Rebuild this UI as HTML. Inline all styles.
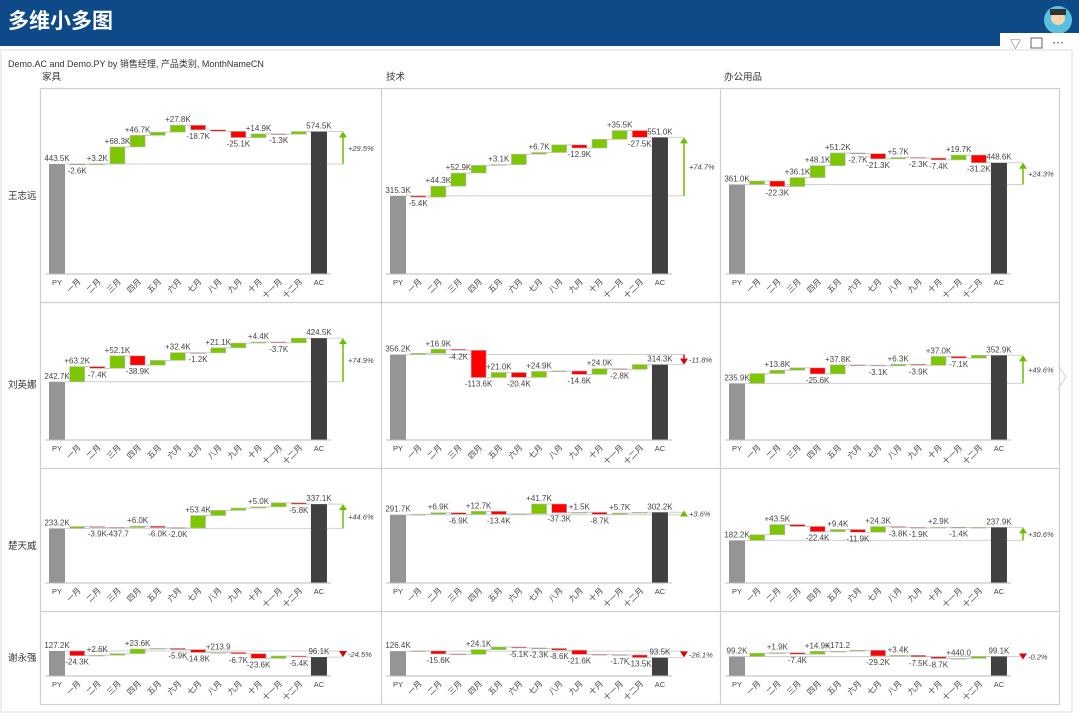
<!DOCTYPE html>
<html><head><meta charset="utf-8"><style>
body{margin:0;width:1079px;height:722px;overflow:hidden;background:#fff;font-family:"Liberation Sans","Noto Sans CJK SC",sans-serif;}
svg text{font-family:"Liberation Sans","Noto Sans CJK SC",sans-serif;}
</style></head><body>
<svg id="s" width="1079" height="722" xmlns="http://www.w3.org/2000/svg">
<rect x="0" y="0" width="1079" height="46" fill="#0e4a88"/>
<text x="8" y="28" font-size="21" fill="#fff" font-weight="bold">多维小多图</text>
<circle cx="1058" cy="20" r="14" fill="#5bc0de"/>
<circle cx="1058" cy="18" r="7" fill="#f4d3b0"/>
<rect x="1050" y="9" width="16" height="6" fill="#333"/>
<rect x="1000" y="33" width="79" height="20" fill="#fff"/>
<rect x="1" y="50" width="1071" height="662" fill="#fff" stroke="#ddd"/>
<text x="1010" y="48" font-size="11" fill="#555">▽</text>
<rect x="1031" y="38" width="11" height="10" fill="none" stroke="#666"/>
<text x="1052" y="47" font-size="12" fill="#555">⋯</text>
<g stroke="#cfcfcf" stroke-width="1.2">
<line x1="40.5" y1="88" x2="40.5" y2="704"/>
<line x1="381.5" y1="88" x2="381.5" y2="704"/>
<line x1="720.5" y1="88" x2="720.5" y2="704"/>
<line x1="1059.5" y1="88" x2="1059.5" y2="704"/>
<line x1="40" y1="88.5" x2="1060" y2="88.5"/>
<line x1="40" y1="302.5" x2="1060" y2="302.5"/>
<line x1="40" y1="468.5" x2="1060" y2="468.5"/>
<line x1="40" y1="611.5" x2="1060" y2="611.5"/>
<line x1="40" y1="704.5" x2="1060" y2="704.5"/>
</g>
<text x="8" y="67" font-size="9" fill="#333">Demo.AC and Demo.PY by 销售经理, 产品类别, MonthNameCN</text>
<text x="42" y="80" font-size="9.5" fill="#333">家具</text>
<text x="386" y="80" font-size="9.5" fill="#333">技术</text>
<text x="724" y="80" font-size="9.5" fill="#333">办公用品</text>
<text x="8" y="199" font-size="9.5" fill="#333">王志远</text>
<text x="8" y="388" font-size="9.5" fill="#333">刘英娜</text>
<text x="8" y="549" font-size="9.5" fill="#333">楚天威</text>
<text x="8" y="661" font-size="9.5" fill="#333">谢永强</text>
<path d="M1058 365 L1066 377 L1058 389" fill="none" stroke="#ddd" stroke-width="1.5"/>
<g id="g"></g>
</svg>
<script>
var cols=[40,381,720], colW=[341,339,339];
var rows=[[88,302,274,0.248],[302,468,440,0.24],[468,611,583,0.234],[611,704,676,0.197]];
var D=[
[[443.5,[-2.6,3.2,68.3,46.7,'u13',27.8,-18.7,'u-6',-25.1,14.9,-1.3,'u10.8'],'+29.5%'],
 [315.3,[-5.4,44.3,52.9,'u31',3.1,'u42',6.7,'u31',-12.9,'u35',35.5,-27.5],'+74.7%'],
 [361.0,['u14',-22.3,36.1,48.1,51.2,-2.7,-21.3,5.7,-2.3,-7.4,19.7,-31.2],'+24.3%']],
[[242.7,[63.2,-7.4,52.1,-38.9,'u20',32.4,-1.2,21.1,'u20',4.4,-3.7,'u19.8'],'+74.9%'],
 [356.2,['u5',16.9,-4.2,-113.6,21.0,-20.4,24.9,'u2',-14.6,24.0,-2.8,'u19.9'],'-11.8%'],
 [235.9,['u41',13.8,'u10',-25.6,37.8,'u-1',-3.1,6.3,-3.9,37.0,-7.1,'u11.8'],'+49.6%']],
[[233.2,['u8',-3.9,-0.4377,6.0,-6.0,-2.0,53.4,'u22','u10',5.0,'u17.6',-5.8],'+44.6%'],
 [291.7,['u2',6.9,-6.9,12.7,-13.4,'u3',41.7,-37.3,1.5,-8.7,5.7,'u3.3'],'+3.6%'],
 [182.2,['u24',43.5,'u-8',-22.4,9.4,-11.9,24.3,-3.8,-1.9,2.9,-1.4,'u1'],'+30.6%']],
[[127.2,[-24.3,2.6,'u8',23.6,'u3',-5.9,-14.8,0.2139,-6.7,-23.6,'u12.2',-5.4],'-24.5%'],
 [126.4,['u1',-15.6,'u-2',24.1,'u13.4',-5.1,-2.3,-8.6,-21.6,'u-1',-1.7,-13.5],'-26.1%'],
 [99.2,['u17',1.9,-7.4,14.9,0.1712,'u5',-29.2,3.4,-7.5,-8.7,0.44,'u9.9'],'-0.2%']]
];
var M=['一月','二月','三月','四月','五月','六月','七月','八月','九月','十月','十一月','十二月'];
var h='';
function fm(v){var a=Math.abs(v);var s=v>=0?'+':'-';return a<1?s+(a*1000).toFixed(1):s+a.toFixed(1)+'K';}
function T(x,y,t,o){h+='<text x="'+x+'" y="'+y+'" font-size="'+((o&&o.fs)||8)+'" fill="'+((o&&o.c)||'#444')+'" text-anchor="'+((o&&o.a)||'middle')+'"'+((o&&o.ex)||'')+'>'+t+'</text>';}
function R(x,y,w,hh,f,st){h+='<rect x="'+x+'" y="'+y+'" width="'+w+'" height="'+Math.max(hh,0.8)+'" fill="'+f+'"'+(st?' stroke="'+st+'" stroke-width="0.6"':'')+'/>';}
function L(x1,y1,x2,y2,c,w){h+='<line x1="'+x1+'" y1="'+y1+'" x2="'+x2+'" y2="'+y2+'" stroke="'+(c||'#ccc')+'" stroke-width="'+(w||1)+'"/>';}
for(var r=0;r<4;r++){var top=rows[r][0],bot=rows[r][1],base=rows[r][2],sc=rows[r][3];
 for(var c=0;c<3;c++){var x0=cols[c];
  var d=D[r][c],py=d[0],cum=py;
  function cx(i){return x0+17+i*20.15;}
  function Y(v){return base-v*sc;}
  R(cx(0)-8,Y(py),16,base-Y(py),'#959595');
  T(cx(0),Y(py)-3,py.toFixed(1)+'K');
  L(cx(0)+8,Y(py),x0+303,Y(py),'#d0d0d0');
  for(var i=0;i<12;i++){var e=d[1][i],lab=true;if(typeof e=='string'){lab=false;e=parseFloat(e.slice(1));}
   var n=cum+e,xc=cx(i+1),y1=Y(Math.max(cum,n)),y2=Y(Math.min(cum,n));
   R(xc-7.5,y1,15,y2-y1,e>=0?'#7cc700':'#ff0000','#bbb');
   L(xc+7.5,Y(n),xc+12.6,Y(n),'#c8c8c8');
   if(lab){if(e>=0)T(xc,y1-3,fm(e));else T(xc,y2+9,fm(e));}
   cum=n;}
  var ac=cum,axc=cx(13);
  R(axc-8,Y(ac),16,base-Y(ac),'#404040');
  T(axc,Y(ac)-3,ac.toFixed(1)+'K');
  L(axc+8,Y(ac),x0+303,Y(ac),'#d0d0d0');
  L(x0+5,base,axc+12,base,'#bbb');
  var ax=x0+303,ya=Y(py),yb=Y(ac),col=ac>=py?'#6cbf00':'#e00000',up=ac>=py;
  if(Math.abs(ya-yb)>8){L(ax,ya,ax,yb+(up?4:-4),col,1.5);
    h+='<path d="M'+(ax-4)+' '+(yb+(up?6:-6))+' L'+ax+' '+yb+' L'+(ax+4)+' '+(yb+(up?6:-6))+'Z" fill="'+col+'"/>';}
  else{var ym=(ya+yb)/2;h+='<path d="M'+(ax-4)+' '+(ym+(up?3:-3))+' L'+ax+' '+(ym+(up?-3:3))+' L'+(ax+4)+' '+(ym+(up?3:-3))+'Z" fill="'+col+'"/>';}
  T(ax+5,(ya+yb)/2+3,d[2],{a:'start',fs:7.5,ex:' font-style="italic"'});
  T(cx(0),base+11,'PY',{fs:7.5});T(axc,base+11,'AC',{fs:7.5});
  for(var i=0;i<12;i++){var xc=cx(i+1)+4,yy=base+8;
   T(xc,yy,M[i],{a:'end',fs:8,ex:' transform="rotate(-45 '+xc+' '+yy+')"'});}
 }}
document.getElementById('g').innerHTML=h;
</script>
</body></html>
